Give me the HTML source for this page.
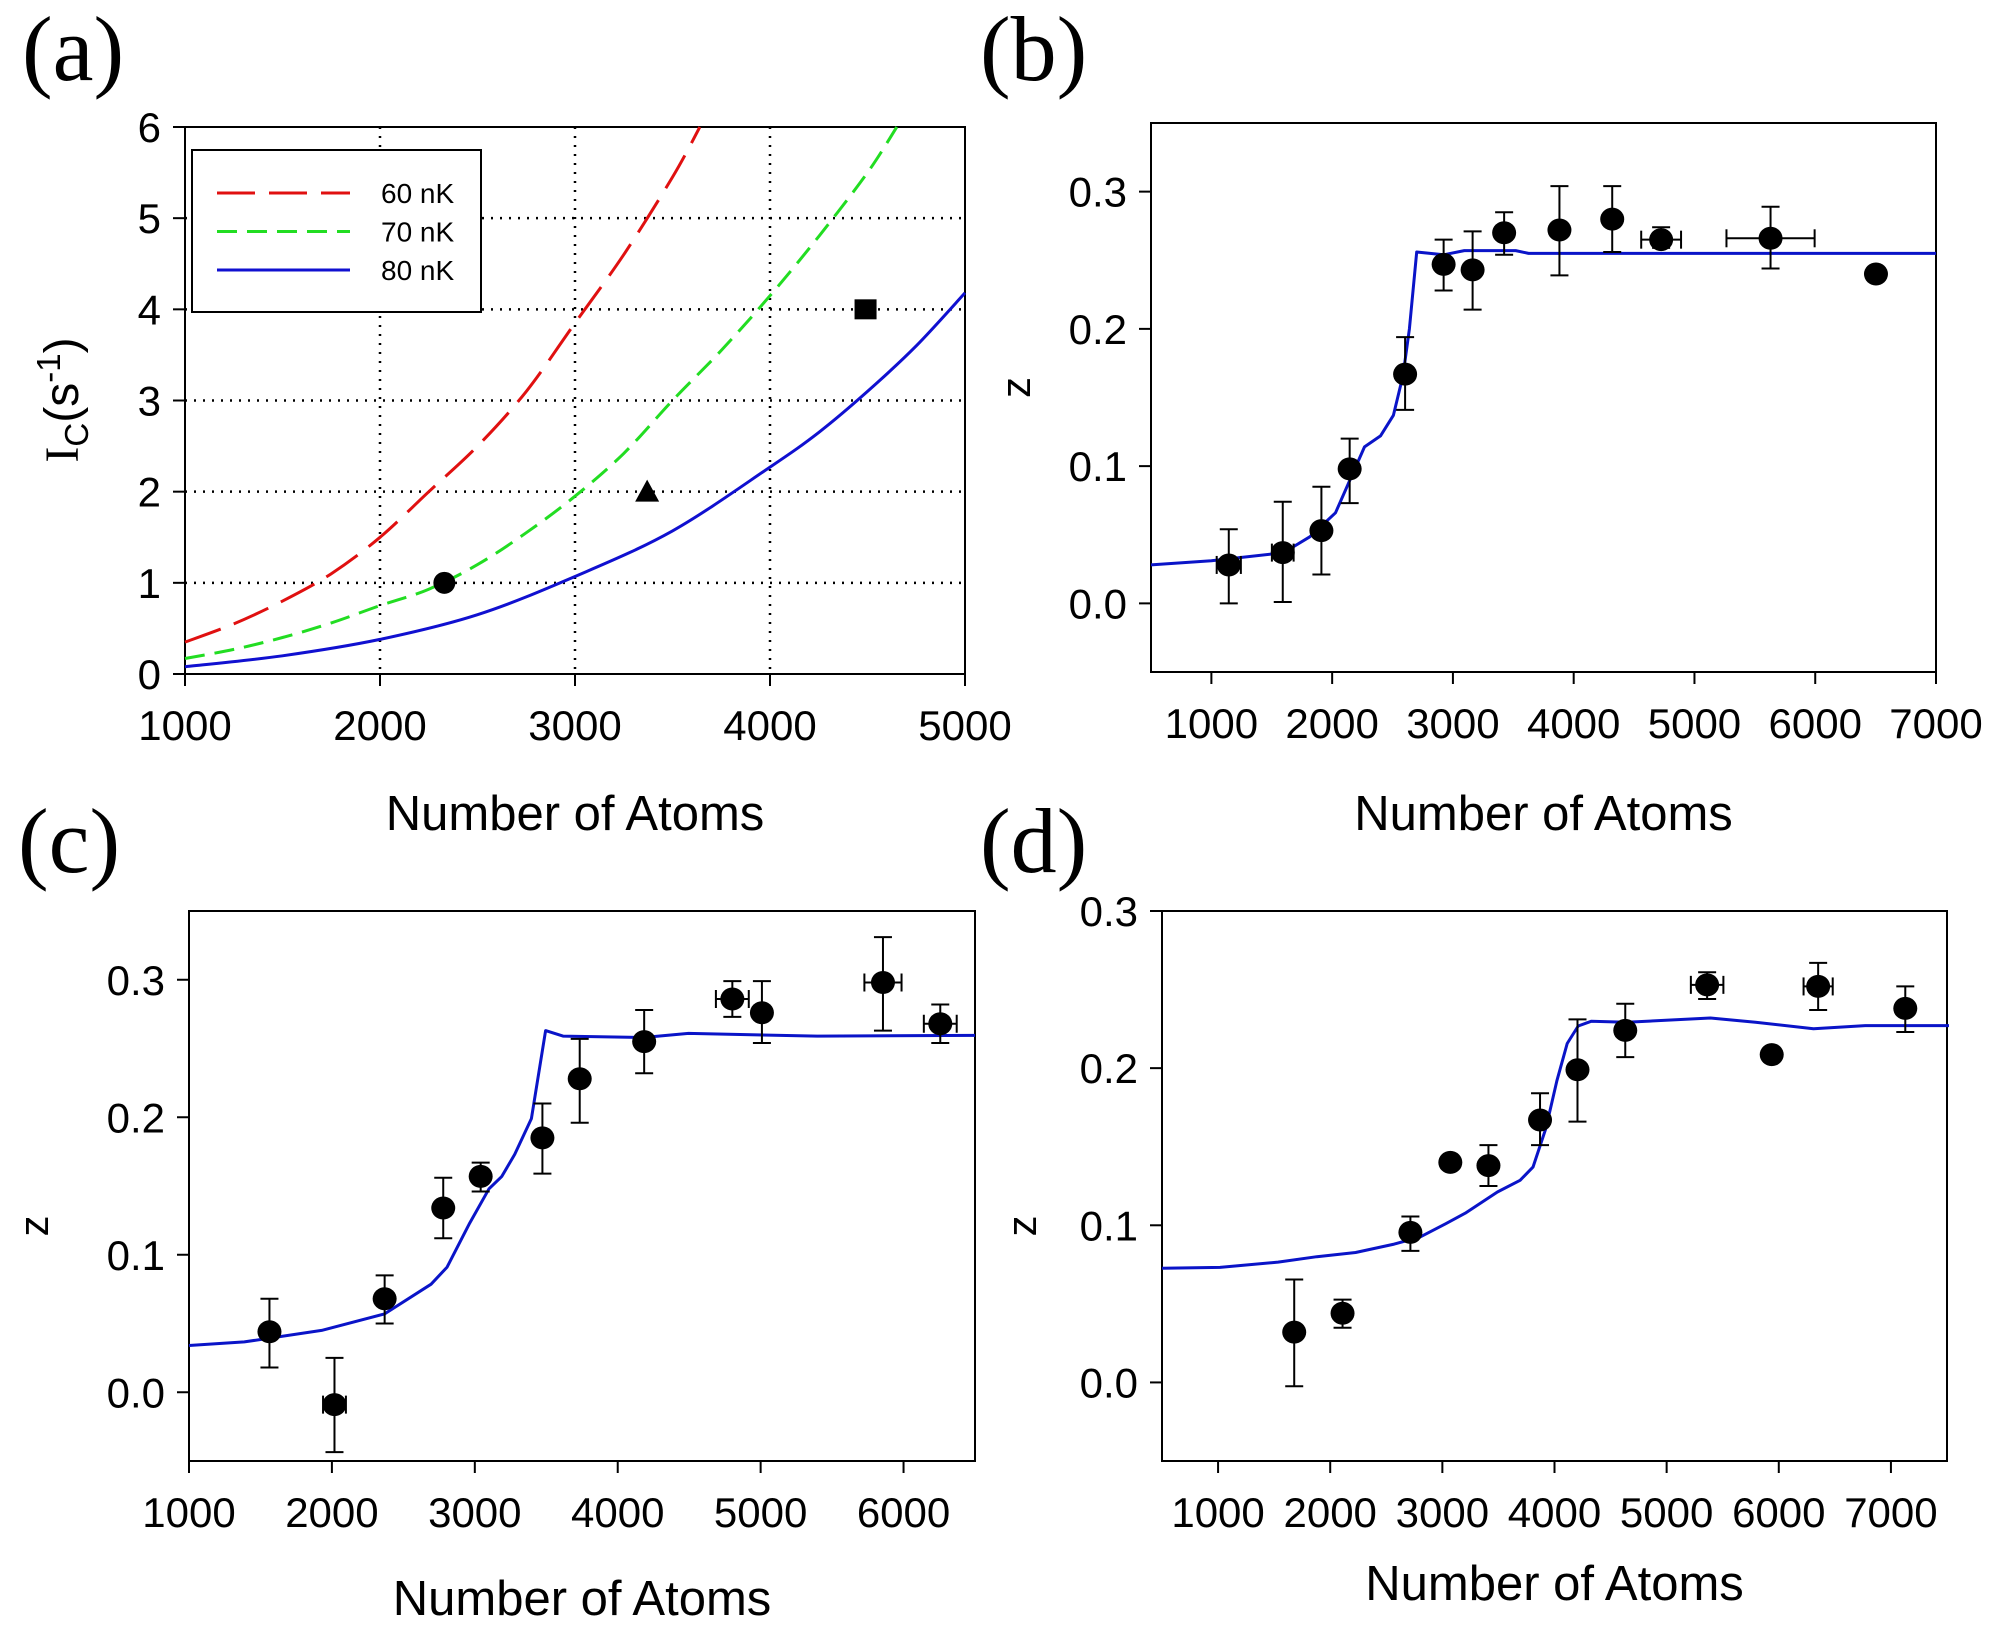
<!DOCTYPE html>
<html><head><meta charset="utf-8">
<style>
html,body{margin:0;padding:0;background:#fff;}
svg{display:block;}
text{font-family:"Liberation Sans",sans-serif;fill:#000;}
.pl{font-family:"Liberation Serif",serif;font-size:92px;}
.tk{font-size:42px;}
.tt{font-size:49px;}
</style></head>
<body>
<svg id="fig" width="2016" height="1631" viewBox="0 0 2016 1631" xmlns="http://www.w3.org/2000/svg">
<text class="pl" x="22" y="80">(a)</text>
<text class="pl" x="980" y="80">(b)</text>
<text class="pl" x="18" y="872">(c)</text>
<text class="pl" x="980" y="872">(d)</text>
</svg>
<script>
// ---- Panel (a) data ----
const aX60 = [1000,1250,1500,1750,2000,2250,2500,2750,3000,3250,3500,3640];
const aY60 = [0.35,0.55,0.8,1.1,1.5,2.0,2.5,3.1,3.85,4.6,5.45,6.0];
const aX70 = [1000,1250,1500,1750,2000,2250,2500,2750,3000,3250,3500,3750,4000,4250,4500,4650];
const aY70 = [0.17,0.27,0.4,0.56,0.75,0.93,1.2,1.55,1.95,2.42,3.0,3.55,4.15,4.8,5.5,6.0];
const aX80 = [1000,1500,2000,2500,3000,3500,4000,4250,4500,4750,5000];
const aY80 = [0.08,0.2,0.38,0.65,1.07,1.57,2.27,2.65,3.1,3.6,4.18];
const aPtX = [2330,3370,4490];
const aPtY = [1.0,2.0,4.0];
const aPtShape = ['circle','triangle','square'];
const aXTicks = [1000,2000,3000,4000,5000];
const aYTicks = [0,1,2,3,4,5,6];
const aLegend = ['60 nK','70 nK','80 nK'];

// ---- Panel (b) data ----
const bX = [1144,1591,1911,2145,2604,2923,3163,3424,3882,4319,4724,5630,6503];
const bY = [0.028,0.037,0.053,0.098,0.167,0.247,0.243,0.27,0.272,0.28,0.265,0.266,0.240];
const bYHi = [0.054,0.074,0.085,0.12,0.194,0.265,0.271,0.285,0.304,0.304,0.274,0.289,0.244];
const bYLo = [0.0,0.001,0.021,0.073,0.141,0.228,0.214,0.254,0.239,0.256,0.259,0.244,0.236];
const bXErr = [100,90,0,0,0,0,0,0,0,0,165,365,0];
const bFitX = [500,1000,1500,1655,1815,2028,2268,2400,2507,2587,2640,2700,2923,3094,3520,3627,7000];
const bFitY = [0.028,0.031,0.036,0.040,0.0485,0.066,0.114,0.122,0.137,0.166,0.2,0.256,0.254,0.257,0.257,0.255,0.255];
const bXTicks = [1000,2000,3000,4000,5000,6000,7000];
const bYTicks = [0.0,0.1,0.2,0.3];

// ---- Panel (c) data ----
const cX = [1563,2018,2369,2779,3041,3473,3734,4185,4802,5009,5856,6257];
const cY = [0.044,-0.009,0.068,0.134,0.157,0.185,0.228,0.255,0.286,0.276,0.298,0.268];
const cYHi = [0.068,0.025,0.085,0.156,0.167,0.21,0.257,0.278,0.299,0.299,0.331,0.282];
const cYLo = [0.018,-0.0435,0.05,0.112,0.146,0.159,0.196,0.232,0.273,0.254,0.263,0.254];
const cXErr = [0,80,0,40,40,0,0,0,115,0,130,115];
const cFitX = [1000,1387,1928,2369,2694,2806,2964,3099,3189,3279,3396,3495,3617,4180,4495,5396,6500];
const cFitY = [0.034,0.0366,0.045,0.057,0.0786,0.091,0.123,0.148,0.157,0.173,0.199,0.263,0.259,0.258,0.261,0.259,0.2595];
const cXTicks = [1000,2000,3000,4000,5000,6000];
const cYTicks = [0.0,0.1,0.2,0.3];

// ---- Panel (d) data ----
const dX = [1679,2110,2715,3071,3411,3871,4205,4631,5361,5937,6351,7128];
const dY = [0.032,0.044,0.0955,0.140,0.138,0.167,0.199,0.224,0.253,0.2086,0.252,0.238];
const dYHi = [0.0655,0.0527,0.1056,0.140,0.151,0.184,0.231,0.241,0.261,0.2126,0.267,0.252];
const dYLo = [-0.0024,0.0348,0.0837,0.140,0.125,0.151,0.166,0.207,0.244,0.2046,0.237,0.223];
const dXErr = [0,0,0,0,0,0,0,0,145,40,130,0];
const dFitX = [500,1017,1535,1880,2226,2571,2801,3031,3204,3491,3693,3808,3923,4021,4113,4211,4326,4642,5390,5792,6310,6771,7518];
const dFitY = [0.0726,0.0732,0.0766,0.080,0.0827,0.088,0.0925,0.101,0.1077,0.1212,0.1286,0.137,0.1617,0.192,0.2157,0.2268,0.2298,0.2292,0.2319,0.2292,0.2251,0.2271,0.2271];
const dXTicks = [1000,2000,3000,4000,5000,6000,7000];
const dYTicks = [0.0,0.1,0.2,0.3];

const NS = 'http://www.w3.org/2000/svg';
const fig = document.getElementById('fig');
function mk(tag, attrs, parent){
  const e = document.createElementNS(NS, tag);
  for (const k in attrs) e.setAttribute(k, attrs[k]);
  (parent||fig).appendChild(e);
  return e;
}
function scale(d0,d1,r0,r1){ return v => r0 + (v-d0)/(d1-d0)*(r1-r0); }
function pathD(xs, ys, sx, sy){
  return xs.map((x,i)=>(i?'L':'M')+sx(x).toFixed(1)+' '+sy(ys[i]).toFixed(1)).join(' ');
}
function smoothD(xs, ys, sx, sy){
  const P = xs.map((x,i)=>[sx(x), sy(ys[i])]);
  let d = 'M'+P[0][0].toFixed(1)+' '+P[0][1].toFixed(1);
  for (let i=0;i<P.length-1;i++){
    const p0=P[Math.max(0,i-1)], p1=P[i], p2=P[i+1], p3=P[Math.min(P.length-1,i+2)];
    const c1=[p1[0]+(p2[0]-p0[0])/6, p1[1]+(p2[1]-p0[1])/6];
    const c2=[p2[0]-(p3[0]-p1[0])/6, p2[1]-(p3[1]-p1[1])/6];
    d += ' C'+c1[0].toFixed(1)+' '+c1[1].toFixed(1)+' '+c2[0].toFixed(1)+' '+c2[1].toFixed(1)+' '+p2[0].toFixed(1)+' '+p2[1].toFixed(1);
  }
  return d;
}

function axes(g, L, T, R, B, sx, sy, xt, yt, yfmt, name){
  const fr = mk('rect',{x:L,y:T,width:R-L,height:B-T,fill:'none',stroke:'#000','stroke-width':2},g);
  
  
  xt.forEach(v=>{
    const x = sx(v);
    const t = mk('line',{x1:x,y1:B,x2:x,y2:B+12,stroke:'#000','stroke-width':2},g);
    
    
    const l = mk('text',{x:x,y:B+66,'text-anchor':'middle',class:'tk'},g);
    l.textContent = String(v);
    
    
  });
  yt.forEach(v=>{
    const y = sy(v);
    const t = mk('line',{x1:L-12,y1:y,x2:L,y2:y,stroke:'#000','stroke-width':2},g);
    
    
    const l = mk('text',{x:L-24,y:y+15,'text-anchor':'end',class:'tk'},g);
    l.textContent = yfmt(v);
    
    
  });
}

function zPanel(name, L, T, R, B, xd, yd, X, Y, YHi, YLo, XErr, FX, FY, xt, yt, xTitleY, zX){
  const g = mk('g',{});
  
  
  const sx = scale(xd[0],xd[1],L,R), sy = scale(yd[0],yd[1],B,T);
  axes(g,L,T,R,B,sx,sy,xt,yt,v=>v.toFixed(1),name);
  const fit = mk('path',{d:pathD(FX,FY,sx,sy),fill:'none',stroke:'#0a14c8','stroke-width':3,'stroke-linejoin':'round'},g);
  
  
  X.forEach((x,i)=>{
    const px = sx(x), py = sy(Y[i]), hi = sy(YHi[i]), lo = sy(YLo[i]);
    const eb = mk('g',{stroke:'#000','stroke-width':2},g);
    
    
    if (Math.abs(lo-hi) > 1){
      mk('line',{x1:px,y1:hi,x2:px,y2:lo},eb);
      mk('line',{x1:px-9,y1:hi,x2:px+9,y2:hi},eb);
      mk('line',{x1:px-9,y1:lo,x2:px+9,y2:lo},eb);
    }
    if (XErr[i] > 0){
      const x1 = sx(x-XErr[i]), x2 = sx(x+XErr[i]);
      mk('line',{x1:x1,y1:py,x2:x2,y2:py},eb);
      mk('line',{x1:x1,y1:py-9,x2:x1,y2:py+9},eb);
      mk('line',{x1:x2,y1:py-9,x2:x2,y2:py+9},eb);
    }
    const c = mk('ellipse',{cx:px,cy:py,rx:12,ry:11.5,fill:'#000'},g);
    
    
  });
  const xtl = mk('text',{x:(L+R)/2,y:xTitleY,'text-anchor':'middle',class:'tt'},g);
  xtl.textContent = 'Number of Atoms';
  
  
  const zy = (T+B)/2 + (name==='b'? -10 : 40);
  const zt = mk('text',{x:zX,y:zy,'text-anchor':'middle',class:'tk',transform:'rotate(-90 '+zX+' '+zy+')'},g);
  zt.textContent = 'z';
  
  
}

// ---- Panel (a) ----
(function(){
  const L=185,T=127,R=965,B=674;
  const g = mk('g',{});
  
  
  const sx = scale(1000,5000,L,R), sy = scale(0,6,B,T);
  aXTicks.slice(1,-1).forEach(v=>{
    const gl = mk('line',{x1:sx(v),y1:T,x2:sx(v),y2:B,stroke:'#000','stroke-width':2.5,'stroke-dasharray':'2 7'},g);
    
    
  });
  aYTicks.slice(1,-1).forEach(v=>{
    const gl = mk('line',{x1:L,y1:sy(v),x2:R,y2:sy(v),stroke:'#000','stroke-width':2.5,'stroke-dasharray':'2 7'},g);
    
    
  });
  axes(g,L,T,R,B,sx,sy,aXTicks,aYTicks,v=>String(v),'a');
  const l60 = mk('path',{d:smoothD(aX60,aY60,sx,sy),fill:'none',stroke:'#e01010','stroke-width':3,'stroke-dasharray':'38 14'},g);
  
  
  const l70 = mk('path',{d:smoothD(aX70,aY70,sx,sy),fill:'none',stroke:'#22dd22','stroke-width':3,'stroke-dasharray':'20 10'},g);
  
  
  const l80 = mk('path',{d:smoothD(aX80,aY80,sx,sy),fill:'none',stroke:'#1010d0','stroke-width':3},g);
  
  
  aPtX.forEach((x,i)=>{
    const px=sx(x), py=sy(aPtY[i]); let m;
    if (aPtShape[i]==='circle') m = mk('circle',{cx:px,cy:py,r:11,fill:'#000'},g);
    else if (aPtShape[i]==='triangle') m = mk('polygon',{points:(px-12)+','+(py+10)+' '+(px+12)+','+(py+10)+' '+px+','+(py-12),fill:'#000'},g);
    else m = mk('rect',{x:px-11,y:py-10,width:22,height:20,fill:'#000'},g);
    
    
  });
  // legend
  const lg = mk('g',{},g);
  
  
  mk('rect',{x:192,y:150,width:289,height:162,fill:'#fff',stroke:'#000','stroke-width':2},lg);
  const styles = [['#e01010','38 14'],['#22dd22','20 10'],['#1010d0','']];
  aLegend.forEach((lab,i)=>{
    const y = 193 + i*38.5;
    const e = mk('g',{},lg);
    
    
    const a = {x1:217,y1:y,x2:350,y2:y,stroke:styles[i][0],'stroke-width':3};
    if (styles[i][1]) a['stroke-dasharray']=styles[i][1];
    mk('line',a,e);
    const t = mk('text',{x:381,y:y+10,style:'font-size:28px'},e);
    t.textContent = lab;
  });
  const xt = mk('text',{x:(L+R)/2,y:830,'text-anchor':'middle',class:'tt'},g);
  xt.textContent = 'Number of Atoms';
  
  
  const yt = mk('text',{x:0,y:0,transform:'translate(78 400) rotate(-90)','text-anchor':'middle',style:'font-size:48px'},g);
  yt.innerHTML = '<tspan style="font-family:\'Liberation Serif\',serif">I</tspan><tspan dy="10" style="font-size:33px">C</tspan><tspan dy="-10">(s</tspan><tspan dy="-18" style="font-size:33px">-1</tspan><tspan dy="18">)</tspan>';
  
  
})();

zPanel('b',1151,123,1936,672,[500,7000],[-0.05,0.35],bX,bY,bYHi,bYLo,bXErr,bFitX,bFitY,bXTicks,bYTicks,830,1030);
zPanel('c',189,911,975,1461,[1000,6500],[-0.05,0.35],cX,cY,cYHi,cYLo,cXErr,cFitX,cFitY,cXTicks,cYTicks,1615,48);
zPanel('d',1162,911,1947,1461,[500,7500],[-0.05,0.3],dX,dY,dYHi,dYLo,dXErr,dFitX,dFitY,dXTicks,dYTicks,1600,1036);
</script>
</body></html>
